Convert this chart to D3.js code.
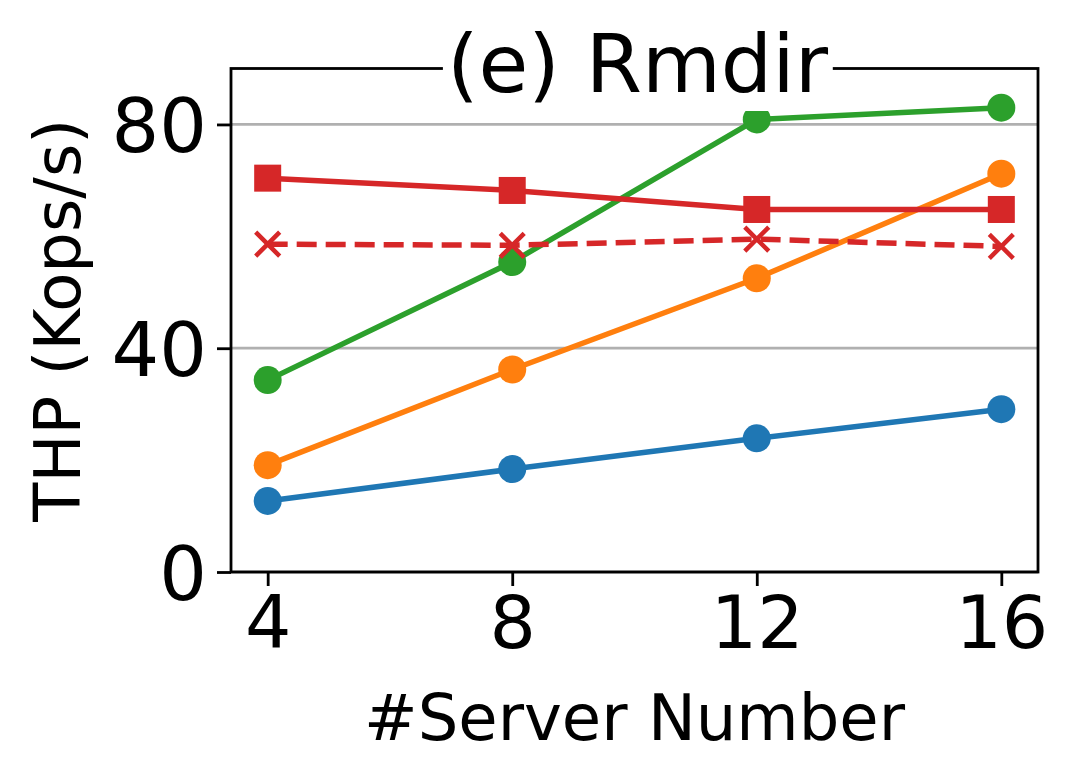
<!DOCTYPE html>
<html>
<head>
<meta charset="utf-8">
<script src="https://cdn.jsdelivr.net/npm/d3@7"></script>
<style>
  html, body { margin: 0; padding: 0; background: #fff; }
  svg { display: block; font-family: "DejaVu Sans", sans-serif; }
</style>
</head>
<body>
<svg id="chart" width="1078" height="781"></svg>
<script>
const serverCounts = [4, 8, 12, 16];
const seriesBlue   = [12.7, 18.4, 23.9, 29.1];
const seriesOrange = [19.1, 36.2, 52.5, 71.2];
const seriesGreen  = [34.3, 55.4, 80.9, 83.0];
const seriesRedSq  = [70.4, 68.2, 64.8, 64.8];
const seriesRedX   = [58.6, 58.4, 59.5, 58.2];
const yTicks = [0, 40, 80];
const xTicks = [4, 8, 12, 16];
const titleText = "(e) Rmdir";
const xLabel = "#Server Number";
const yLabel = "THP (Kops/s)";

(function () {
const series = [
  { values: seriesBlue,   color: "#1f77b4", marker: "circle", dash: null },
  { values: seriesOrange, color: "#ff7f0e", marker: "circle", dash: null },
  { values: seriesGreen,  color: "#2ca02c", marker: "circle", dash: null },
  { values: seriesRedSq,  color: "#d62728", marker: "square", dash: null },
  { values: seriesRedX,   color: "#d62728", marker: "x",      dash: "20,9" }
];

const pL = 231, pR = 1038, pT = 68.5, pB = 572;

const svg = d3.select("#chart");
const x = d3.scaleLinear().domain([3.4, 16.6]).range([pL, pR]);
const y = d3.scaleLinear().domain([0, 90]).range([pB, pT]);

// grid
svg.append("g").selectAll("line").data(yTicks).join("line")
  .attr("x1", pL).attr("x2", pR)
  .attr("y1", d => y(d)).attr("y2", d => y(d))
  .attr("stroke", "#b0b0b0").attr("stroke-width", 2.8);

// lines and markers
const line = d3.line().x((d, i) => x(serverCounts[i])).y(d => y(d));
series.forEach(s => {
  const g = svg.append("g");
  g.append("path").datum(s.values)
    .attr("d", line).attr("fill", "none")
    .attr("stroke", s.color).attr("stroke-width", 5.5)
    .attr("stroke-linejoin", "round")
    .attr("stroke-dasharray", s.dash);
  const pts = s.values.map((v, i) => [x(serverCounts[i]), y(v)]);
  if (s.marker === "circle") {
    g.selectAll("circle").data(pts).join("circle")
      .attr("cx", d => d[0]).attr("cy", d => d[1]).attr("r", 14)
      .attr("fill", s.color);
  } else if (s.marker === "square") {
    g.selectAll("rect").data(pts).join("rect")
      .attr("x", d => d[0] - 13.5).attr("y", d => d[1] - 13.5)
      .attr("width", 27).attr("height", 27).attr("fill", s.color);
  } else {
    const r = 12;
    g.selectAll("path.xm").data(pts).join("path").attr("class", "xm")
      .attr("d", d => `M${d[0]-r},${d[1]-r}L${d[0]+r},${d[1]+r}M${d[0]-r},${d[1]+r}L${d[0]+r},${d[1]-r}`)
      .attr("stroke", s.color).attr("stroke-width", 4.5).attr("fill", "none");
  }
});

// spines
svg.append("rect").attr("x", pL).attr("y", pT)
  .attr("width", pR - pL).attr("height", pB - pT)
  .attr("fill", "none").attr("stroke", "#000").attr("stroke-width", 2.8);

// axes
const xAxis = d3.axisBottom(x).tickValues(xTicks).tickSize(14).tickPadding(10).tickFormat(d3.format("d"));
const gx = svg.append("g").attr("transform", `translate(0,${pB})`).call(xAxis);
gx.select(".domain").remove();
gx.selectAll(".tick line").attr("stroke", "#000").attr("stroke-width", 2.8);
gx.selectAll(".tick text").attr("font-size", 73).attr("fill", "#000")
  .attr("font-family", "DejaVu Sans").attr("dy", "0.71em");

const yAxis = d3.axisLeft(y).tickValues(yTicks).tickSize(14).tickPadding(10).tickFormat(d3.format("d"));
const gy = svg.append("g").attr("transform", `translate(${pL},0)`).call(yAxis);
gy.select(".domain").remove();
gy.selectAll(".tick line").attr("stroke", "#000").attr("stroke-width", 2.8);
gy.selectAll(".tick text").attr("font-size", 75).attr("fill", "#000")
  .attr("font-family", "DejaVu Sans").attr("dy", "0.36em");

// labels
svg.append("text").attr("x", (pL + pR) / 2).attr("y", 740)
  .attr("text-anchor", "middle").attr("font-size", 64).attr("fill", "#000")
  .text(xLabel);
svg.append("text")
  .attr("transform", `translate(80,${(pT + pB) / 2}) rotate(-90)`)
  .attr("text-anchor", "middle").attr("font-size", 64).attr("fill", "#000")
  .text(yLabel);

// title with white background box
const tg = svg.append("g");
const tt = tg.append("text").attr("x", (pL + pR) / 2 + 3).attr("y", 92)
  .attr("text-anchor", "middle").attr("font-size", 81).attr("fill", "#000")
  .text(titleText);
const bb = tt.node().getBBox();
tg.insert("rect", "text").attr("x", bb.x - 4).attr("y", bb.y)
  .attr("width", bb.width + 8).attr("height", bb.height).attr("fill", "#fff");
})();
</script>
</body>
</html>
